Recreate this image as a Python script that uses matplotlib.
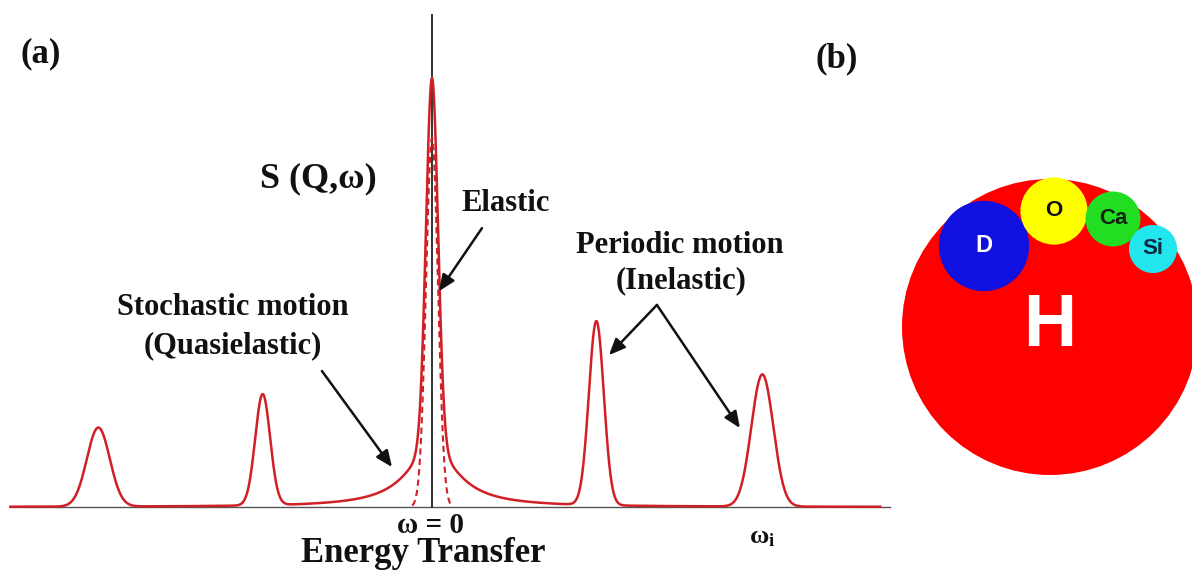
import numpy as np
import matplotlib
matplotlib.use('Agg')
import matplotlib.pyplot as plt
from matplotlib.patches import Circle

plt.rcParams['font.family'] = ['Liberation Serif', 'DejaVu Serif']
plt.rcParams['font.weight'] = 'bold'
plt.rcParams['mathtext.fontset'] = 'custom'
plt.rcParams['mathtext.rm'] = 'Liberation Serif:bold'
plt.rcParams['mathtext.it'] = 'Liberation Serif:bold'

# energy transfer in units of the first mode, intensity in arbitrary units
peak_omega = [-2.01, -1.02, 0.99, 1.99]
peak_height = [18.4, 25.9, 42.9, 30.8]
peak_sigma = [0.069, 0.045, 0.045, 0.066]
elastic_height = 86.0
elastic_sigma = 0.036
quasi_height = 14.0
quasi_gamma = 0.18

# incoherent neutron scattering cross sections (barn)
elements = ['H', 'D', 'O', 'Ca', 'Si']
cross_section = [82.02, 7.64, 4.232, 2.83, 2.167]

RED = '#d11f26'
INK = '#111111'

fig = plt.figure(figsize=(11.92, 5.70), dpi=100)

# ---- (a) scattering law sketch ----
ax = fig.add_axes([0, 0, 1, 1])
ax.set_xlim(-432 / 166, 760 / 166)
ax.set_ylim(-63 / 4.29, 507 / 4.29)
ax.axis('off')

w = np.linspace(-2.54, 2.70, 8000)
elastic = elastic_height * np.exp(-w**2 / (2 * elastic_sigma**2))
quasi = quasi_height / (1 + (w / quasi_gamma)**2)
inelastic = np.zeros_like(w)
for w0, h, s in zip(peak_omega, peak_height, peak_sigma):
    inelastic += h * np.exp(-(w - w0)**2 / (2 * s**2))

ax.plot([-2.54, 2.76], [0, 0], color='#555555', lw=1.0, zorder=1)
ax.plot([0, 0], [0, 114.7], color='#333333', lw=1.4, zorder=2)
ax.plot(w, elastic + quasi + inelastic, color=RED, lw=1.8, zorder=3)
core = np.abs(w) < 0.12
ax.plot(w[core], elastic[core], color=RED, lw=1.5, ls=(0, (3, 2)), zorder=3)

txt = dict(ha='center', va='baseline', color=INK, fontweight='bold')
ax.text(-0.687, 74.6, 'S (Q,ω)', fontsize=26, **txt)
ax.text(0.446, 69.0, 'Elastic', fontsize=22, **txt)
ax.text(-1.199, 44.8, 'Stochastic motion', fontsize=22, **txt)
ax.text(-1.199, 35.9, '(Quasielastic)', fontsize=22, **txt)
ax.text(1.494, 59.2, 'Periodic motion', fontsize=22, **txt)
ax.text(1.500, 51.0, '(Inelastic)', fontsize=22, **txt)
ax.text(-0.012, -6.06, 'ω = 0', fontsize=21, **txt)
ax.text(-0.054, -12.8, 'Energy Transfer', fontsize=25, **txt)
ax.text(peak_omega[3], -8.4, r'$\omega_\mathrm{i}$', fontsize=19, **txt)

arrow = dict(arrowstyle='-|>,head_length=0.7,head_width=0.3', color=INK,
             lw=1.8, shrinkA=0, shrinkB=0, mutation_scale=14)
ax.annotate('', xy=(0.042, 50.3), xytext=(0.301, 65.0), arrowprops=arrow)
ax.annotate('', xy=(-0.241, 9.3), xytext=(-0.663, 31.7), arrowprops=arrow)
ax.annotate('', xy=(1.066, 35.4), xytext=(1.355, 47.1), arrowprops=arrow)
ax.annotate('', xy=(1.855, 18.4), xytext=(1.355, 47.1), arrowprops=arrow)

fig.text(41 / 1192, 1 - 54 / 570, '(a)', fontsize=25, fontweight='bold',
         ha='center', va='center', color=INK)
fig.text(837 / 1192, 1 - 59 / 570, '(b)', fontsize=25, fontweight='bold',
         ha='center', va='center', color=INK)

# ---- (b) relative cross sections as circle areas ----
bx = fig.add_axes([880 / 1192, 0, 312 / 1192, 1])
bx.set_xlim(-170, 142)
bx.set_ylim(-243, 327)
bx.axis('off')

scale = 148 / np.sqrt(cross_section[0])
centers = [(0, 0), (-66, 81), (4, 116), (63, 108), (103, 78)]
fills = ['#ff0000', '#1010e0', '#ffff00', '#22dd22', '#22e6ee']
label_colors = ['white', 'white', INK, '#112211', '#0d2a40']
label_sizes = [53, 17, 16, 16, 16]

for el, sig, c, fc, lc, fs in zip(elements, cross_section, centers, fills,
                                  label_colors, label_sizes):
    bx.add_patch(Circle(c, scale * np.sqrt(sig), facecolor=fc,
                        edgecolor='none'))
    bx.text(c[0], c[1], el, ha='center', va='center', color=lc, fontsize=fs,
            fontweight='bold', family=['Liberation Sans', 'DejaVu Sans'])

fig.savefig('out.png', dpi=100, facecolor='white')
